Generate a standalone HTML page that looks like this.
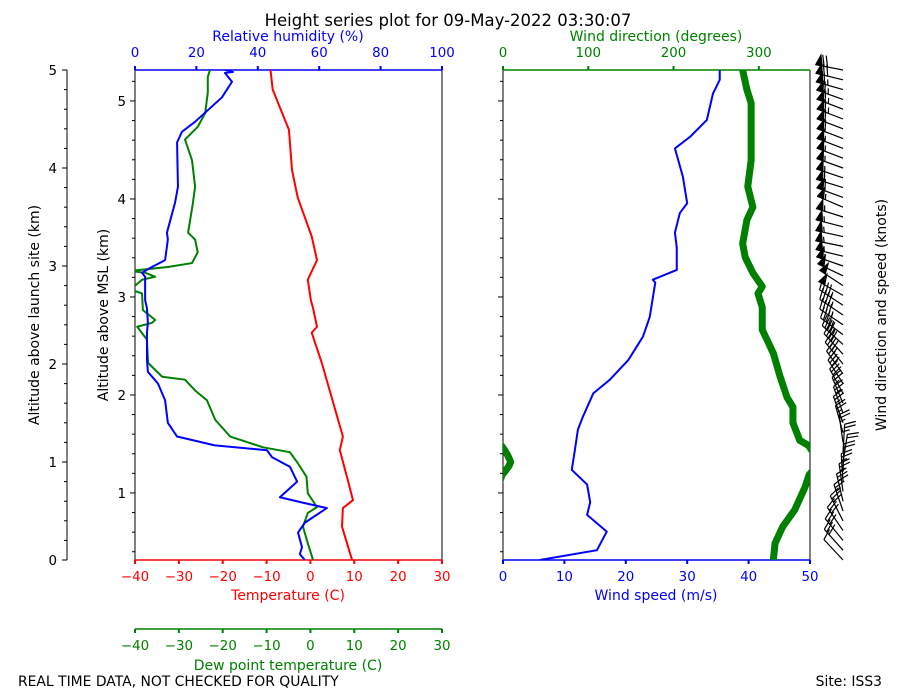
<!DOCTYPE html>
<html><head><meta charset="utf-8"><title>Height series plot</title>
<style>
html,body{margin:0;padding:0;background:#fff;}
svg{display:block;font-family:"DejaVu Sans","Liberation Sans",sans-serif;}
</style></head>
<body>
<svg id="chart" width="900" height="700" viewBox="0 0 900 700" xmlns="http://www.w3.org/2000/svg">
<defs>
<clipPath id="clipL"><rect x="135" y="70" width="307" height="490"/></clipPath>
<clipPath id="clipR"><rect x="503" y="70" width="307" height="490"/></clipPath>
</defs>
<text x="448" y="26" font-size="16.5" text-anchor="middle">Height series plot for 09-May-2022 03:30:07</text>
<g id="axes"></g>
<g id="series"></g>
<g id="barbs"></g>
<text x="18" y="686" font-size="13.9">REAL TIME DATA, NOT CHECKED FOR QUALITY</text>
<text x="882" y="686" font-size="13.9" text-anchor="end">Site: ISS3</text>
</svg>
<script>
// ---- data (altitude above launch site in km) ----
const tempAlt = [0,0.34,0.53,0.61,0.82,1.12,1.26,2.01,2.32,2.38,2.57,2.65,2.86,3.06,3.30,3.70,3.98,4.39,4.80,5.0];
const tempVals = [9.5,7.2,7.4,9.7,8.5,6.7,7.4,2.6,0.3,1.5,0.6,0.1,-0.6,1.5,0.3,-2.9,-4.2,-4.9,-8.6,-9.1];

const rhAlt = [0,0.06,0.13,0.28,0.38,0.53,0.58,0.64,0.80,0.95,1.05,1.12,1.17,1.26,1.40,1.63,1.80,1.92,2.04,2.32,2.42,2.57,2.65,2.89,2.93,2.98,3.06,3.27,3.34,3.64,3.81,4.26,4.37,4.47,4.72,4.88,4.97,4.98,5.0];
const rhVals = [55.3,53.7,54.4,53.1,55.3,62.5,55.3,47.2,52.8,50.5,44.6,43,26,13.7,10.7,9.8,7.5,4.2,3.9,3.9,4.2,3.9,3.3,3.3,2.3,4.9,9.8,10.7,10.4,13,14,13.7,15.3,19.5,28.3,31.6,29.3,31.9,29.3];

const dewAlt = [0,0.17,0.34,0.48,0.54,0.68,0.85,0.99,1.10,1.15,1.26,1.43,1.63,1.73,1.84,1.87,2.01,2.25,2.38,2.42,2.45,2.55,2.72,2.76,2.86,2.89,2.93,2.95,2.99,3.03,3.14,3.27,3.34,3.64,3.81,4.08,4.29,4.42,4.56,4.77,4.93,5.0];
const dewVals = [0.6,-0.6,-1.7,-0.6,1.5,-0.6,-0.9,-2.9,-4.7,-10.8,-18.3,-21.7,-23.6,-26.3,-28.6,-33.8,-37,-37.3,-39.5,-36.1,-35.4,-38.2,-38.4,-41,-38.4,-35.4,-37.6,-41,-32.5,-27,-25.7,-26.3,-27.9,-26.8,-26.3,-27,-28.6,-25.7,-24,-23.4,-23.4,-22.9];

const wsAlt = [0,0.10,0.29,0.46,0.59,0.77,0.92,1.12,1.33,1.46,1.70,1.84,2.04,2.28,2.48,2.83,2.86,2.96,3.19,3.34,3.54,3.64,3.91,4.20,4.32,4.49,4.76,4.90,5.0];
const wsVals = [6,15.3,16.9,13.7,14.2,13.7,11.2,11.7,12.2,13,14.7,17.4,20.4,22.8,23.9,24.8,24.4,28.3,28.3,28,28.8,30,29.3,28,30.5,33.2,34.2,35.3,35.3];

const wdAlt = [0,0.17,0.34,0.51,0.74,0.87,0.90,0.96,1.0,1.06,1.12,1.17,1.22,1.40,1.56,1.66,1.87,2.11,2.35,2.58,2.72,2.79,2.93,3.09,3.23,3.47,3.60,3.81,4.08,4.66,4.80,5.0];
const wdVals = [317,319,328,342,354,359,2,7,9,6,2,358,348,340,340,333,325,317,304,304,299,304,293,284,281,286,293,287,291,291,286,281];

const tempTicks = [-40,-30,-20,-10,0,10,20,30];
const rhTicks = [0,20,40,60,80,100];
const wsTicks = [0,10,20,30,40,50];
const wdTicks = [0,100,200,300];
const altTicks = [0,1,2,3,4,5];
const mslTicks = [1,2,3,4,5];

// ---- scales ----
const PT=70, PB=560;
const yH = h => PB - h*98;
const xT = t => 135 + (t+40)*307/70;
const xRH = r => 135 + r*3.07;
const xWS = s => 503 + s*6.14;
const xWD = d => 503 + d*307/360;
const MSL_OFF = 0.316;
const yMSL = m => yH(m - MSL_OFF);

const NS="http://www.w3.org/2000/svg";
const axes=document.getElementById('axes');
const series=document.getElementById('series');
const barbsG=document.getElementById('barbs');
function mk(tag,attrs,parent){const e=document.createElementNS(NS,tag);for(const k in attrs)e.setAttribute(k,attrs[k]);parent.appendChild(e);return e;}
function txt(s,attrs,parent){const e=mk('text',attrs,parent);e.textContent=s;return e;}

const TF=13.4, AF=14;
let e;
e=mk('line',{x1:135,y1:PT,x2:135,y2:PB,stroke:'#000','stroke-width':1},axes);


e=mk('line',{x1:442,y1:PT,x2:442,y2:PB,stroke:'#000','stroke-width':1},axes);


e=mk('line',{x1:135,y1:PT,x2:442,y2:PT,stroke:'#0000ff','stroke-width':1.5},axes);


e=mk('line',{x1:135,y1:PB,x2:442,y2:PB,stroke:'#ff0000','stroke-width':1.5},axes);


e=mk('line',{x1:135,y1:629,x2:442,y2:629,stroke:'#008000','stroke-width':1.5},axes);


e=mk('line',{x1:503,y1:PT,x2:503,y2:PB,stroke:'#000','stroke-width':1},axes);


e=mk('line',{x1:810,y1:PT,x2:810,y2:PB,stroke:'#000','stroke-width':1},axes);


e=mk('line',{x1:503,y1:PT,x2:810,y2:PT,stroke:'#008000','stroke-width':1.5},axes);


e=mk('line',{x1:503,y1:PB,x2:810,y2:PB,stroke:'#0000ff','stroke-width':1.5},axes);


e=mk('line',{x1:67,y1:PT,x2:67,y2:PB,stroke:'#000','stroke-width':1},axes);



function xTicks(vals,fx,y,dir,color,fmtY,name){
  vals.forEach(v=>{
    const x=fx(v);
    const t=mk('line',{x1:x,y1:y,x2:x,y2:y+dir*4,stroke:color,'stroke-width':2},axes);
    
    
    const l=txt(String(v).replace('-','\u2212'),{x:x,y:fmtY,'font-size':TF,'text-anchor':'middle',fill:color},axes);
    
    
  });
}
xTicks(tempTicks,xT,PB,1,'#ff0000',581,'temperature');
xTicks(tempTicks,xT,629,1,'#008000',650,'dewpoint');
xTicks(rhTicks,xRH,PT,-1,'#0000ff',57,'rh');
xTicks(wsTicks,xWS,PB,1,'#0000ff',581,'wind-speed');
xTicks(wdTicks,xWD,PT,-1,'#008000',57,'wind-direction');

function yTick(x,y,len,name){const t=mk('line',{x1:x,y1:y,x2:x-len,y2:y,stroke:'#000','stroke-width':1},axes);}
altTicks.forEach(a=>{
  yTick(67,yH(a),5,'launch-altitude-tick');
  const l=txt(String(a),{x:57,y:yH(a)+5,'font-size':TF,'text-anchor':'end'},axes);
  
  
});
for(let i=0;i<25;i++){const a=i*0.2; if(i%5) yTick(67,yH(a),3,'launch-altitude-minor-tick');}
mslTicks.forEach(m=>{
  yTick(135,yMSL(m),5,'msl-altitude-tick');
  yTick(503,yMSL(m),5,'wind-panel-altitude-tick');
  const l=txt(String(m),{x:126,y:yMSL(m)+5,'font-size':TF,'text-anchor':'end'},axes);
  
  
});
for(let i=2;i<=27;i++){const m=i*0.2; if(i%5===0) continue; const y=yMSL(m); if(y<PT-0.5||y>PB) continue; yTick(135,y,3,'msl-minor-tick'); yTick(503,y,3,'wind-panel-minor-tick');}

function title(s,attrs,name){const t=txt(s,attrs,axes);}
title('Relative humidity (%)',{x:288,y:41,'font-size':AF,'text-anchor':'middle',fill:'#0000ff'},'rh-axis-title');
title('Wind direction (degrees)',{x:656,y:41,'font-size':AF,'text-anchor':'middle',fill:'#008000'},'wind-direction-axis-title');
title('Temperature (C)',{x:288,y:600,'font-size':AF,'text-anchor':'middle',fill:'#ff0000'},'temperature-axis-title');
title('Dew point temperature (C)',{x:288,y:670,'font-size':AF,'text-anchor':'middle',fill:'#008000'},'dewpoint-axis-title');
title('Wind speed (m/s)',{x:656,y:600,'font-size':AF,'text-anchor':'middle',fill:'#0000ff'},'wind-speed-axis-title');
title('Altitude above launch site (km)',{x:0,y:0,'font-size':AF,'text-anchor':'middle',transform:'translate(39,315) rotate(-90)'},'launch-altitude-axis-title');
title('Altitude above MSL (km)',{x:0,y:0,'font-size':AF,'text-anchor':'middle',transform:'translate(108,315) rotate(-90)'},'msl-altitude-axis-title');
title('Wind direction and speed (knots)',{x:0,y:0,'font-size':AF,'text-anchor':'middle',transform:'translate(886,315) rotate(-90)'},'barb-axis-title');

function poly(alts,vals,fx,color,w,clip,name){
  const pts=alts.map((h,i)=>fx(vals[i]).toFixed(2)+','+yH(h).toFixed(2)).join(' ');
  const p=mk('polyline',{points:pts,fill:'none',stroke:color,'stroke-width':w,'stroke-linejoin':'round','clip-path':'url(#'+clip+')'},series);
  
  
}
poly(tempAlt,tempVals,xT,'#ff0000',2,'clipL','temperature-line');
poly(dewAlt,dewVals,xT,'#008000',2,'clipL','dewpoint-line');
poly(rhAlt,rhVals,xRH,'#0000ff',2,'clipL','rh-line');
poly(wsAlt,wsVals,xWS,'#0000ff',2,'clipR','wind-speed-line');
const wdUn=[];
wdVals.forEach((d,i)=>{ if(i===0){wdUn.push(d);return;} let v=d; const p=wdUn[i-1]; while(v-p>180)v-=360; while(p-v>180)v+=360; wdUn.push(v);});
[-360,0,360].forEach(off=>{
  poly(wdAlt,wdUn.map(v=>v+off),xWD,'#008000',7,'clipR','wind-direction-line');
});

function interp(alts,vals,h){
  if(h<=alts[0])return vals[0];
  for(let i=1;i<alts.length;i++){ if(h<=alts[i]){const f=(h-alts[i-1])/(alts[i]-alts[i-1]);return vals[i-1]+f*(vals[i]-vals[i-1]);} }
  return vals[vals.length-1];
}
const BX=843, L=28, FW=7, BH=11, SP=3.5;
for(let i=0;i<=50;i++){
  const h=i*0.1;
  const spd=interp(wsAlt,wsVals,h);
  const dir=interp(wdAlt,wdUn,h)*Math.PI/180;
  const dx=Math.sin(dir), dy=-Math.cos(dir);
  const px=-dy, py=dx;
  const bx=BX, by=yH(h);
  const tx=bx+L*dx, ty=by+L*dy;
  const g=mk('g',{},barbsG);
  
  
  mk('line',{x1:bx,y1:by,x2:tx,y2:ty,stroke:'#000','stroke-width':1.2},g);
  let kt=Math.round(spd*1.944/5)*5;
  const flags=Math.floor(kt/50); kt-=flags*50;
  const full=Math.floor(kt/10); kt-=full*10;
  const half=kt>=5;
  const P=o=>[tx-dx*o,ty-dy*o];
  let o=0;
  for(let f=0;f<flags;f++){
    const a=P(o),b=P(o+FW/2),c=P(o+FW);
    mk('polygon',{points:`${a[0]},${a[1]} ${b[0]+px*BH},${b[1]+py*BH} ${c[0]},${c[1]}`,fill:'#000',stroke:'#000','stroke-width':0.8},g);
    o+=FW+SP*0.5;
  }
  for(let f=0;f<full;f++){
    const a=P(o),b=P(o-FW/2);
    mk('line',{x1:a[0],y1:a[1],x2:b[0]+px*BH,y2:b[1]+py*BH,stroke:'#000','stroke-width':1.2},g);
    o+=SP;
  }
  if(half){
    if(flags===0&&full===0)o+=SP;
    const a=P(o),b=P(o-FW/4);
    mk('line',{x1:a[0],y1:a[1],x2:b[0]+px*BH/2,y2:b[1]+py*BH/2,stroke:'#000','stroke-width':1.2},g);
  }
}
</script>
</body></html>
